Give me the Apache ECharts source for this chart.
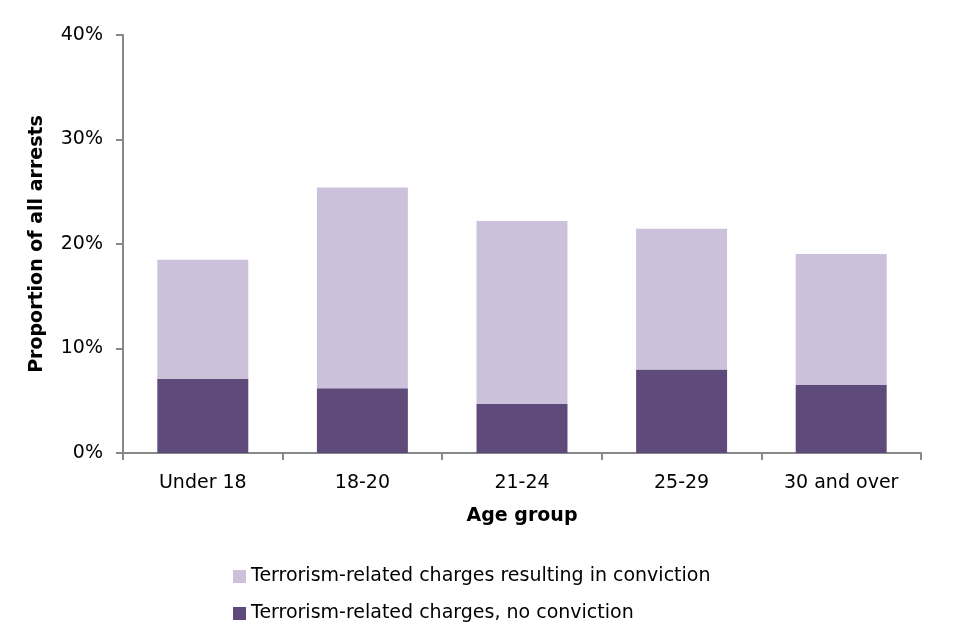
<!DOCTYPE html>
<html><head><meta charset="utf-8">
<script src="https://cdn.jsdelivr.net/npm/echarts@6/dist/echarts.min.js"></script>
<style>html,body{margin:0;padding:0;background:#fff}#c{width:960px;height:640px}</style>
</head><body><div id="c"></div>
<script>
const categories = ['Under 18', '18-20', '21-24', '25-29', '30 and over'];
const noConviction = [7.1, 6.2, 4.7, 8.0, 6.5];
const conviction = [11.4, 19.2, 17.5, 13.45, 12.55];
const yTicks = [0, 10, 20, 30, 40];

const font = 'DejaVu Sans';
const chart = echarts.init(document.getElementById('c'));
chart.setOption({
  animation: false,
  textStyle: { fontFamily: font },
  grid: { left: 123, right: 39, top: 35, bottom: 187 },
  legend: {
    orient: 'vertical', left: 228, top: 562, itemGap: 18,
    itemWidth: 13, itemHeight: 13, icon: 'rect',
    textStyle: { fontFamily: font, fontSize: 19, color: '#000' },
    data: ['Terrorism-related charges resulting in conviction', 'Terrorism-related charges, no conviction']
  },
  xAxis: {
    type: 'category', data: categories,
    name: 'Age group', nameLocation: 'middle', nameGap: 54,
    nameTextStyle: { fontFamily: font, fontSize: 19, fontWeight: 'bold', color: '#000' },
    axisLine: { lineStyle: { color: '#888', width: 2 } },
    axisTick: { show: true, length: 7, lineStyle: { color: '#888', width: 2 } },
    axisLabel: { fontFamily: font, fontSize: 19, color: '#000', margin: 21 }
  },
  yAxis: {
    type: 'value', min: 0, max: 40, interval: 10,
    name: 'Proportion of all arrests', nameLocation: 'middle', nameGap: 76,
    nameTextStyle: { fontFamily: font, fontSize: 19, fontWeight: 'bold', color: '#000' },
    axisLine: { show: true, lineStyle: { color: '#888', width: 2 } },
    axisTick: { show: true, length: 7, lineStyle: { color: '#888', width: 2 } },
    splitLine: { show: false },
    axisLabel: { fontFamily: font, fontSize: 19, color: '#000', margin: 20,
      formatter: v => yTicks.includes(v) ? v + '%' : '' }
  },
  series: [
    { name: 'Terrorism-related charges, no conviction', type: 'bar', stack: 'a',
      data: noConviction, barWidth: '57%', itemStyle: { color: '#5f4b7b' } },
    { name: 'Terrorism-related charges resulting in conviction', type: 'bar', stack: 'a',
      data: conviction, barWidth: '57%', itemStyle: { color: '#cbc1da' } }
  ]
});
</script></body></html>
